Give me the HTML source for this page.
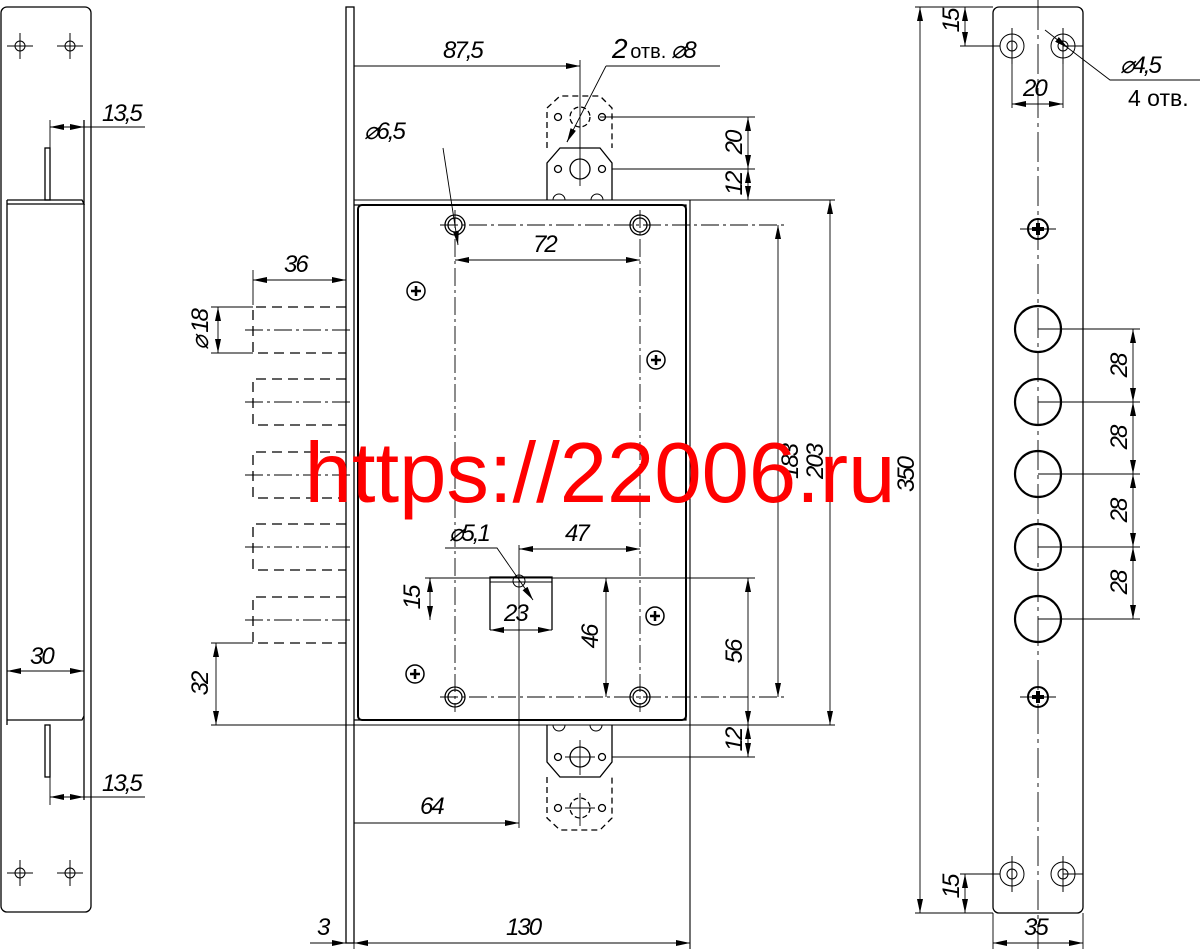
<!DOCTYPE html>
<html><head><meta charset="utf-8"><style>
html,body{margin:0;padding:0;background:#fff}
svg{display:block}
text{font-family:"Liberation Sans",sans-serif;fill:#000}
.d{font-style:italic;font-size:24px;letter-spacing:-2px}
</style></head><body>
<svg width="1200" height="949" viewBox="0 0 1200 949" xmlns="http://www.w3.org/2000/svg">
<defs>
<marker id="a" viewBox="0 0 14 6" refX="14" refY="3" markerWidth="14" markerHeight="6" orient="auto-start-reverse" markerUnits="userSpaceOnUse"><path d="M0,0L14,3L0,6z" fill="#000"/></marker>
</defs>
<g fill="none" stroke="#000" stroke-width="1.3">
<!-- LEFT VIEW -->
<rect x="1" y="7" width="90" height="905" rx="6"/>
<g stroke-width="1">
<circle cx="20" cy="46" r="5"/><path d="M7 46H33M20 33V59"/>
<circle cx="70" cy="46" r="5"/><path d="M57 46H83M70 33V59"/>
<circle cx="20" cy="873" r="5"/><path d="M7 873H33M20 860V886"/>
<circle cx="70" cy="873" r="5"/><path d="M57 873H83M70 860V886"/>
</g>
<path d="M7 200H82L84 204H7M7 200V725M84 120V800"/>
<path d="M7 720H82L84 716"/>
<rect x="45" y="148" width="5" height="52"/><rect x="45" y="725" width="5" height="52"/>
<path d="M50 120V200M50 725V805" stroke-width="0.9"/>
<path d="M50 127H84" marker-start="url(#a)" marker-end="url(#a)" stroke-width="0.9"/><path d="M84 127H145" stroke-width="0.9"/>
<path d="M50 797H84" marker-start="url(#a)" marker-end="url(#a)" stroke-width="0.9"/><path d="M84 797H145" stroke-width="0.9"/>
<path d="M7 671H84" marker-start="url(#a)" marker-end="url(#a)" stroke-width="0.9"/>

<!-- CENTER VIEW -->
<rect x="346" y="7" width="8" height="936"/>
<path d="M354 200H835M354 725H835" stroke-width="1.1"/>
<path d="M354 205H686V720H354" />
<rect x="358" y="205" width="328" height="515" rx="4" stroke-width="2"/>
<path d="M690 200V949" stroke-width="1.1"/>
<g stroke-width="1.3">
<circle cx="455" cy="225" r="10"/><circle cx="455" cy="225" r="7"/>
<circle cx="640" cy="225" r="10"/><circle cx="640" cy="225" r="7"/>
<circle cx="455" cy="697" r="10"/><circle cx="455" cy="697" r="7"/>
<circle cx="640" cy="697" r="10"/><circle cx="640" cy="697" r="7"/>
</g>
<path d="M440 225H785M440 697H785M455 210V712M640 210V712" stroke-width="0.9" stroke-dasharray="18,4,3,4"/>
<g stroke-width="1.5">
<circle cx="416" cy="291" r="9"/><circle cx="656" cy="360" r="9"/><circle cx="655" cy="616" r="9"/><circle cx="415" cy="674" r="9"/>
<path d="M411 291H421M416 286V296M651 360H661M656 355V365M650 616H660M655 611V621M410 674H420M415 669V679" stroke-width="2.5"/>
</g>
<!-- top strike -->
<path d="M547 200V163L560 148H600L612 163V200"/>
<path d="M547 148V108L560 96H600L612 108V148" stroke-dasharray="6,4"/>
<circle cx="580" cy="169" r="10"/><circle cx="558" cy="169" r="3.5"/><circle cx="602" cy="169" r="3.5"/>
<circle cx="580" cy="117" r="10" stroke-dasharray="5,3"/><circle cx="558" cy="117" r="3.5"/><circle cx="602" cy="117" r="3.5"/>
<path d="M580 60V186" stroke-width="0.9"/>
<path d="M553 200a6 6 0 0 1 12 0M591 200a6 6 0 0 1 12 0" stroke-width="1"/>
<!-- bottom strike -->
<path d="M547 725V762L560 777H600L612 762V725"/>
<path d="M547 777V818L560 830H600L612 818V777" stroke-dasharray="6,4"/>
<circle cx="580" cy="757" r="10"/><circle cx="558" cy="757" r="3.5"/><circle cx="602" cy="757" r="3.5"/>
<circle cx="580" cy="808" r="10" stroke-dasharray="5,3"/><circle cx="558" cy="808" r="3.5"/><circle cx="602" cy="808" r="3.5"/>
<path d="M580 740V775M565 757H595M580 793V826M565 808H595" stroke-width="0.9"/>
<path d="M553 725a6 6 0 0 0 12 0M590 725a6 6 0 0 0 12 0" stroke-width="1"/>
<!-- bolts -->
<g stroke-width="1.3" stroke-dasharray="10,6">
<path d="M346 307H253V353H346"/><path d="M346 379H253V425H346"/><path d="M346 452H253V498H346"/><path d="M346 524H253V570H346"/><path d="M346 597H253V643H346"/>
</g>
<path d="M245 330H354M245 402H354M245 475H354M245 547H354M245 620H354" stroke-width="0.9" stroke-dasharray="18,4,3,4"/>
<path d="M253 270V305M346 270V300" stroke-width="0.9"/>
<path d="M253 280H346" marker-start="url(#a)" marker-end="url(#a)" stroke-width="0.9"/>
<path d="M211 307H253M211 353H253" stroke-width="0.9"/>
<path d="M218 307V353" marker-start="url(#a)" marker-end="url(#a)" stroke-width="0.9"/>
<path d="M211 643H253M211 725H354" stroke-width="0.9"/>
<path d="M216 643V725" marker-start="url(#a)" marker-end="url(#a)" stroke-width="0.9"/>
<!-- cylinder -->
<path d="M490 630V577H552V630" stroke-width="1.3"/>
<path d="M490 582H552" stroke-width="0.9"/>
<circle cx="519" cy="581" r="6" stroke-width="1"/>
<path d="M425 578H755" stroke-width="0.9"/>
<path d="M519 545V828" stroke-width="0.9"/>
<path d="M490 630H552" marker-start="url(#a)" marker-end="url(#a)" stroke-width="0.9"/>
<path d="M519 549H640" marker-start="url(#a)" marker-end="url(#a)" stroke-width="0.9"/>
<path d="M430 578V620" marker-start="url(#a)" marker-end="url(#a)" stroke-width="0.9"/>
<path d="M606 578V697" marker-start="url(#a)" marker-end="url(#a)" stroke-width="0.9"/>
<path d="M748 578V725" marker-start="url(#a)" marker-end="url(#a)" stroke-width="0.9"/>
<path d="M445 548H497L533 600" stroke-width="0.9" marker-end="url(#a)"/>
<!-- top dims -->
<path d="M354 66H580" marker-end="url(#a)" stroke-width="0.9"/>
<path d="M606 66H720M606 66L567 142" stroke-width="0.9"/>
<path d="M573 130L567 142" marker-end="url(#a)" stroke-width="0.9"/>
<path d="M600 117H755M612 169H755" stroke-width="0.9"/>
<path d="M748 117V169" marker-start="url(#a)" marker-end="url(#a)" stroke-width="0.9"/>
<path d="M748 169V200" marker-start="url(#a)" marker-end="url(#a)" stroke-width="0.9"/>
<path d="M612 757H755" stroke-width="0.9"/>
<path d="M748 725V757" marker-start="url(#a)" marker-end="url(#a)" stroke-width="0.9"/>
<path d="M455 260H640" marker-start="url(#a)" marker-end="url(#a)" stroke-width="0.9"/>
<path d="M778 225V697" marker-start="url(#a)" marker-end="url(#a)" stroke-width="0.9"/>
<path d="M830 200V725" marker-start="url(#a)" marker-end="url(#a)" stroke-width="0.9"/>
<path d="M443 148L458 245" marker-end="url(#a)" stroke-width="0.9"/>
<path d="M354 823H519" marker-end="url(#a)" stroke-width="0.9"/>
<path d="M354 943H690" marker-start="url(#a)" marker-end="url(#a)" stroke-width="0.9"/>
<path d="M310 943H346" marker-end="url(#a)" stroke-width="0.9"/>
<path d="M354 943V949" stroke-width="0.9"/>

<!-- RIGHT VIEW -->
<rect x="993" y="7" width="90" height="906" rx="6"/>
<path d="M1038 0V949" stroke-width="0.9" stroke-dasharray="30,5,4,5"/>
<g stroke-width="1">
<circle cx="1012" cy="46" r="12"/><circle cx="1012" cy="46" r="5"/>
<circle cx="1063" cy="46" r="12"/><circle cx="1063" cy="46" r="5"/>
<circle cx="1012" cy="874" r="12"/><circle cx="1012" cy="874" r="5"/>
<circle cx="1063" cy="874" r="12"/><circle cx="1063" cy="874" r="5"/>
<path d="M1012 28V64M1063 28V64M1012 856V892M1063 856V892M1063 874H1083M1063 46H1083"/>
</g>
<g stroke-width="2">
<circle cx="1038" cy="229" r="10"/><circle cx="1038" cy="697" r="10"/>
</g>
<path d="M1020 229H1056M1020 697H1056" stroke-width="0.9"/>
<path d="M1032 229H1044M1038 223V235M1032 697H1044M1038 691V703" stroke-width="4"/>
<g stroke-width="2.2">
<circle cx="1038" cy="329" r="23"/><circle cx="1038" cy="402" r="23"/><circle cx="1038" cy="474" r="23"/><circle cx="1038" cy="547" r="23"/><circle cx="1038" cy="619" r="23"/>
</g>
<path d="M1038 329H1140M1038 402H1140M1038 474H1140M1038 547H1140M1038 619H1140" stroke-width="0.9"/>
<path d="M1133 329V402" marker-start="url(#a)" marker-end="url(#a)" stroke-width="0.9"/>
<path d="M1133 402V474" marker-start="url(#a)" marker-end="url(#a)" stroke-width="0.9"/>
<path d="M1133 474V547" marker-start="url(#a)" marker-end="url(#a)" stroke-width="0.9"/>
<path d="M1133 547V619" marker-start="url(#a)" marker-end="url(#a)" stroke-width="0.9"/>
<path d="M915 7H993M915 913H993M960 46H1000M960 874H1000" stroke-width="0.9"/>
<path d="M920 7V913" marker-start="url(#a)" marker-end="url(#a)" stroke-width="0.9"/>
<path d="M965 7V46" marker-start="url(#a)" marker-end="url(#a)" stroke-width="0.9"/>
<path d="M965 874V913" marker-start="url(#a)" marker-end="url(#a)" stroke-width="0.9"/>
<path d="M1012 60V108M1063 60V108" stroke-width="0.9"/>
<path d="M1012 104H1063" marker-start="url(#a)" marker-end="url(#a)" stroke-width="0.9"/>
<path d="M1045 30L1068 48" marker-end="url(#a)" stroke-width="0.9"/>
<path d="M1068 48L1110 80H1200" stroke-width="0.9"/>
<path d="M993 913V949M1083 913V949" stroke-width="0.9"/>
<path d="M993 943H1083" marker-start="url(#a)" marker-end="url(#a)" stroke-width="0.9"/>
</g>

<!-- TEXT -->
<g class="d">
<text x="102" y="121">13,5</text>
<text x="102" y="791">13,5</text>
<text x="30" y="664">30</text>
<text x="443" y="58">87,5</text>
<text x="612" y="58"><tspan font-size="28">2</tspan> <tspan font-style="normal" font-size="20" letter-spacing="0">отв.</tspan> ⌀8</text>
<text x="364" y="139">⌀6,5</text>
<text x="533" y="252">72</text>
<text x="284" y="272">36</text>
<text x="565" y="541">47</text>
<text x="449" y="541">⌀5,1</text>
<text x="504" y="621">23</text>
<text x="420" y="814">64</text>
<text x="506" y="935">130</text>
<text x="317" y="935">3</text>
<text x="1023" y="96">20</text>
<text x="1120" y="73">⌀4,5</text>
<text x="1024" y="935">35</text>
<text transform="translate(742,143) rotate(-90)" text-anchor="middle">20</text>
<text transform="translate(742,184) rotate(-90)" text-anchor="middle">12</text>
<text transform="translate(742,740) rotate(-90)" text-anchor="middle">12</text>
<text transform="translate(742,652) rotate(-90)" text-anchor="middle">56</text>
<text transform="translate(598,637) rotate(-90)" text-anchor="middle">46</text>
<text transform="translate(420,598) rotate(-90)" text-anchor="middle">15</text>
<text transform="translate(208,684) rotate(-90)" text-anchor="middle">32</text>
<text transform="translate(208,330) rotate(-90)" text-anchor="middle">⌀ 18</text>
<text transform="translate(798,462) rotate(-90)" text-anchor="middle">183</text>
<text transform="translate(823,462) rotate(-90)" text-anchor="middle">203</text>
<text transform="translate(914,475) rotate(-90)" text-anchor="middle">350</text>
<text transform="translate(959,21) rotate(-90)" text-anchor="middle">15</text>
<text transform="translate(959,887) rotate(-90)" text-anchor="middle">15</text>
<text transform="translate(1127,366) rotate(-90)" text-anchor="middle">28</text>
<text transform="translate(1127,438) rotate(-90)" text-anchor="middle">28</text>
<text transform="translate(1127,511) rotate(-90)" text-anchor="middle">28</text>
<text transform="translate(1127,583) rotate(-90)" text-anchor="middle">28</text>
</g>
<text x="1128" y="106" font-size="23">4 отв.</text>
<text x="600" y="502" text-anchor="middle" font-size="85" style="fill:#ff0000">https://22006.ru</text>
</svg>
</body></html>
